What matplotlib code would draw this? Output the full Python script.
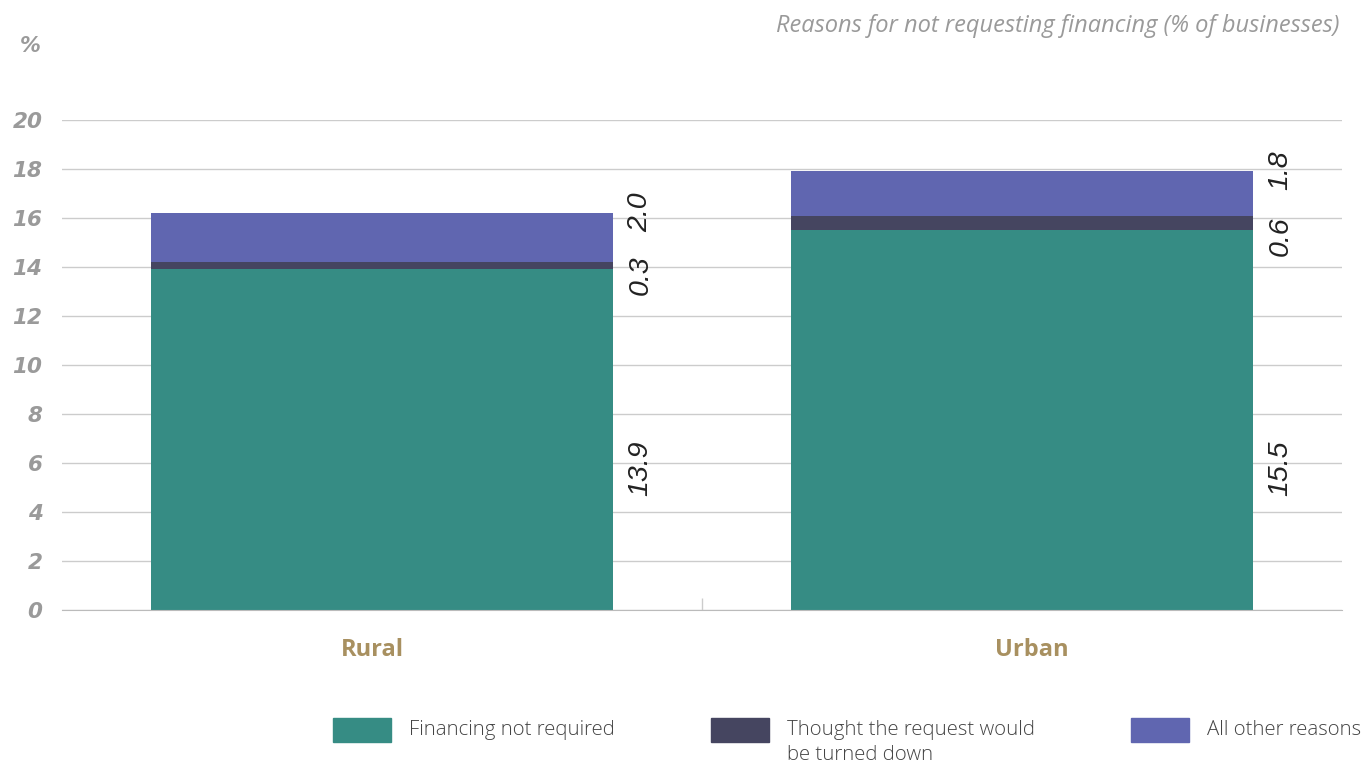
import matplotlib.pyplot as plt
from matplotlib.patches import Rectangle
import matplotlib.transforms as mtransforms
import numpy as np

# data
categories = ["Rural", "Urban"]
not_required = [13.9, 15.5]
turned_down = [0.3, 0.6]
other_reasons = [2.0, 1.8]
series_names = ["Financing not required",
                "Thought the request would\nbe turned down",
                "All other reasons"]
yticks = [0, 2, 4, 6, 8, 10, 12, 14, 16, 18, 20]

colors = ["#368C84", "#454560", "#6066B0"]
grey = "#9A9A9A"

fig = plt.figure(figsize=(13.64, 7.64), dpi=100)
ax = fig.add_axes([62 / 1364, 1 - 610 / 764, 1280 / 1364, 490 / 764])

x = np.arange(len(categories))
series = [not_required, turned_down, other_reasons]
bottom = np.zeros(len(categories))
for vals, col, name in zip(series, colors, series_names):
    ax.bar(x, vals, width=0.722, bottom=bottom, color=col, label=name, zorder=3)
    bottom = bottom + np.array(vals)

# value labels, rotated, to the right of each bar
lab_font = dict(family=["Liberation Sans", "DejaVu Sans"], style="italic",
                fontsize=20.5, color="#222222", rotation=90, ha="center", va="center")
for i in range(len(categories)):
    xl = x[i] + 0.361 + 0.043
    ax.text(xl, 5.8, "%.1f" % not_required[i], **lab_font)
    ax.text(xl, not_required[i] - 0.25, "%.1f" % turned_down[i], **lab_font)
    top = not_required[i] + turned_down[i] + other_reasons[i]
    ax.text(xl, top + 0.05, "%.1f" % other_reasons[i], **lab_font)

ax.set_xlim(-0.5, 1.5)
ax.set_ylim(0, 20)
ax.set_yticks(yticks)
ax.set_yticklabels([str(v) for v in yticks], fontsize=15.5, fontweight="bold",
                   style="italic", color=grey, family="DejaVu Sans")
ax.yaxis.grid(True, color="#CCCCCC", linewidth=1, zorder=0)
ax.tick_params(axis="y", length=0, pad=14)

ax.set_xticks(x)
ax.set_xticklabels(categories, fontsize=17, fontweight="bold",
                   color="#A89060", family="Open Sans")
ax.tick_params(axis="x", length=0, pad=20)
# the category names sit a little off the bar centres
for lab, dx in zip(ax.get_xticklabels(), [-10, 10]):
    lab.set_transform(lab.get_transform() +
                      mtransforms.ScaledTranslation(dx / 100, 0, fig.dpi_scale_trans))
ax.set_xticks([0.5], minor=True)
ax.tick_params(axis="x", which="minor", direction="in", length=9,
               color="#CCCCCC", width=1)

for s in ["top", "right", "left"]:
    ax.spines[s].set_visible(False)
ax.spines["bottom"].set_color("#BBBBBB")
ax.spines["bottom"].set_zorder(4)

fig.text(30 / 1364, 1 - 46 / 764, "%", fontsize=15, fontweight="bold",
         style="italic", color=grey, ha="center", va="center")
fig.text(1340 / 1364, 1 - 26 / 764,
         "Reasons for not requesting financing (% of businesses)",
         fontsize=17, style="italic", color=grey, family="Open Sans",
         ha="right", va="center")

# legend: colour boxes with labels to their right
leg_x = [333, 711, 1131]
for lx, col, name in zip(leg_x, colors, series_names):
    fig.add_artist(Rectangle((lx / 1364, 1 - 742 / 764), 58 / 1364, 24 / 764,
                             transform=fig.transFigure, color=col))
    for k, line in enumerate(name.split("\n")):
        fig.text((lx + 76) / 1364, 1 - (730 + 25 * k) / 764, line, fontsize=14.7,
                 family="Open Sans", weight="light", color="#444444",
                 ha="left", va="center")

fig.savefig("out.png", dpi=100)
